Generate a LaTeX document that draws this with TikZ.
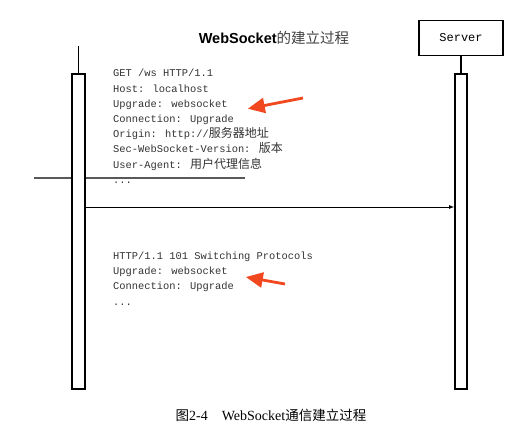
\documentclass[tikz,border=0pt]{standalone}
\usepackage{fontspec}
\setmainfont{Liberation Serif}
\newfontfamily\cjk{Noto Sans CJK SC}
\newfontfamily\monof{Liberation Mono}
\newfontfamily\headf{Liberation Sans}
\usetikzlibrary{arrows.meta,positioning}
\definecolor{hintred}{RGB}{242,72,32}
\newcommand{\zh}[1]{{\cjk\fontsize{12}{12}\selectfont #1}}
\tikzset{
  lifebar/.style={draw,fill=white,line width=1.8pt,minimum width=12pt,minimum height=315pt,anchor=north,inner sep=0pt},
  codeline/.style={anchor=base west,inner sep=0pt,text=black!80,font=\monof\fontsize{10.4}{12}\selectfont},
  hint/.style={hintred,line width=2.8pt,-{Triangle[length=17pt,width=15pt]}},
  msg/.style={line width=0.8pt,-{Latex[length=5pt,width=4pt]}}
}
\begin{document}
\begin{tikzpicture}[x=1pt,y=-1pt]
  \useasboundingbox (0,0) rectangle (520,444);
  % Titel
  \node (title) at (274,38) {\headf\fontsize{14.5}{16}\selectfont\textbf{WebSocket}{\cjk\color{black!75}的建立过程}};
  % Server
  \node[draw,line width=1.8pt,minimum width=84pt,minimum height=35pt,font=\monof\fontsize{12}{14}\selectfont] (server) at (461,38) {Server};
  % Trennlinie hinter dem Balken
  \coordinate (sepl) at (34,178);
  \coordinate (sepr) at (245,178);
  \draw[black!65,line width=1.3pt] (sepl) -- (sepr);
  % Lebenslinien
  \coordinate (client) at (78.5,46);
  \node[lifebar,minimum width=13pt] (cbar) at (78.5,73) {};
  \node[lifebar] (sbar) at (461,73) {};
  \draw[line width=1.8pt] (client) -- (cbar.north);
  \draw[line width=1.8pt] (server.south) -- (sbar.north);
  % Anfrage
  \node[codeline] (req1) at (113,77) {GET /ws HTTP/1.1};
  \node[codeline] (req2) at (113,92.2) {Host: localhost};
  \node[codeline] (req3) at (113,107.4) {Upgrade: websocket};
  \node[codeline] (req4) at (113,122.6) {Connection: Upgrade};
  \node[codeline] (req5) at (113,137.8) {Origin: http://\zh{服务器地址}};
  \node[codeline] (req6) at (113,153) {Sec-WebSocket-Version: \zh{版本}};
  \node[codeline] (req7) at (113,168.2) {User-Agent: \zh{用户代理信息}};
  \node[codeline] (req8) at (113,183.4) {...};
  % Nachricht
  \coordinate (msgy) at (0,207);
  \draw[msg] (cbar.east |- msgy) -- (sbar.west |- msgy);
  % Antwort
  \node[codeline] (resp1) at (113,259.5) {HTTP/1.1 101 Switching Protocols};
  \node[codeline] (resp2) at (113,274.7) {Upgrade: websocket};
  \node[codeline] (resp3) at (113,289.9) {Connection: Upgrade};
  \node[codeline] (resp4) at (113,305.1) {...};
  % rote Pfeile
  \coordinate (tail1) at (303,98);
  \coordinate (tail2) at (285,284);
  \draw[hint] (tail1) -- ([xshift=20pt,yshift=-4pt]req3.east);
  \draw[hint] (tail2) -- ([xshift=18pt,yshift=-5pt]resp2.east);
  % Bildunterschrift
  \node (caption) at (271,415) {\fontsize{14}{16}\selectfont{\cjk\fontsize{13.5}{16}\selectfont 图}2-4\quad WebSocket{\cjk\fontsize{13.5}{16}\selectfont 通信建立过程}};
\end{tikzpicture}
\end{document}
